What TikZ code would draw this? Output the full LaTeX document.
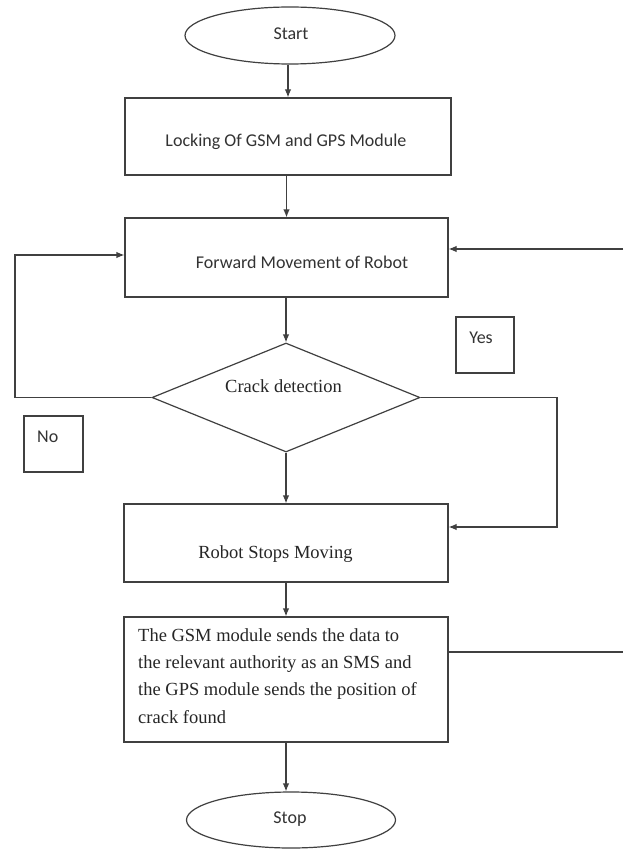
\documentclass[tikz,border=0pt]{standalone}
\usepackage{fontspec}
\setmainfont{Liberation Serif}
\newfontfamily\calfont{Carlito}
\usetikzlibrary{shapes.geometric,arrows.meta}
\begin{document}
\begin{tikzpicture}[x=1pt,y=-1pt,
  ln/.style={draw=black!75, line width=1.2pt},
  arr/.style={ln, -{Latex[length=8pt,width=6.5pt]}},
  box/.style={rectangle, draw=black!75, line width=1.2pt, inner sep=0pt},
  oval/.style={ellipse, draw=black!75, line width=1.2pt, inner sep=0pt},
  dia/.style={diamond, draw=black!75, line width=1.2pt, inner sep=0pt},
  sans/.style={font=\calfont\fontsize{18}{22}\selectfont, text=black!80, inner sep=0pt, anchor=base},
  serif/.style={font=\fontsize{18.5}{27.2}\selectfont, text=black!85, inner sep=0pt}]
\useasboundingbox (0,0) rectangle (623,850);
\fill[white] (0,0) rectangle (623,850);

% shapes
\node[oval, minimum width=210, minimum height=57] (start) at (290,35.5) {};
\node[box, minimum width=326, minimum height=77] (b1) at (288,136.5) {};
\node[box, minimum width=323, minimum height=79] (b2) at (286.5,257.5) {};
\node[dia, minimum width=268, minimum height=109] (dec) at (286,397.5) {};
\node[box, minimum width=58, minimum height=56] (yesbox) at (485,345) {};
\node[box, minimum width=59, minimum height=56] (nobox) at (53.5,444) {};
\node[box, minimum width=324, minimum height=78] (b3) at (286,543) {};
\node[box, minimum width=324, minimum height=125] (b4) at (286,679.5) {};
\node[oval, minimum width=209, minimum height=56] (stop) at (291,820) {};

% texts
\node[sans] (tstart) at (291,40) {Start};
\node[sans] (t1) at (286,147) {Locking Of GSM and GPS Module};
\node[sans] (t2) at (302,268) {Forward Movement of Robot};
\node[serif, anchor=base] (tdec) at (283.5,392) {Crack detection};
\node[sans] (tyes) at (481,343) {Yes};
\node[sans, anchor=base west] (tno) at (37,442) {No};
\node[serif, anchor=base] (t3) at (275.5,558) {Robot Stops Moving};
\node[serif, anchor=north west, align=left] (t4) at (138,628.4)
  {The GSM module sends the data to\\the relevant authority as an SMS and\\the GPS module sends the position of\\crack found};
\node[sans] (tstop) at (290,823) {Stop};

% connectors
\draw[arr] (start.south -| b1.north) -- (b1.north);
\draw[arr] (b1.south -| b2.north) -- (b2.north);
\draw[arr] (b2.south -| dec.north) -- (dec.north);
\draw[arr] (dec.south) -- (dec.south |- b3.north);
\draw[arr] (b3.south) -- (b3.south |- b4.north);
\draw[arr] (b4.south) -- (b4.south |- stop.north);

\coordinate (L) at (15,255);
\draw[arr] (dec.west) -| (L) -- (L -| b2.west);
\coordinate (R) at (557,527);
\draw[arr] (dec.east) -| (R) -- (R -| b3.east);
\coordinate (E1) at (623,249);
\draw[arr] (E1) -- (E1 -| b2.east);
\coordinate (E2) at (623,652);
\draw[ln] (b4.east |- E2) -- (E2);
\end{tikzpicture}
\end{document}
